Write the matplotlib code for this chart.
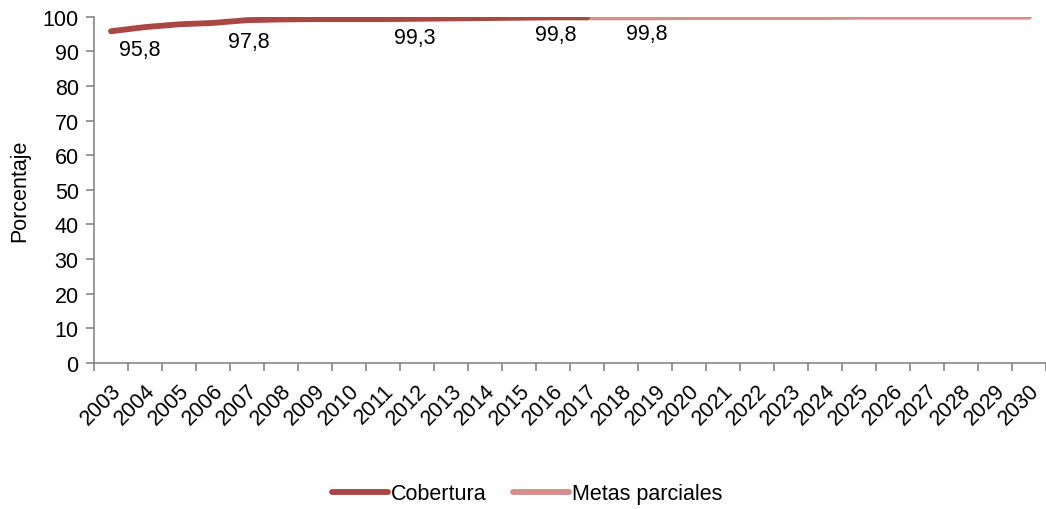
import numpy as np
import matplotlib
matplotlib.use('Agg')
import matplotlib.pyplot as plt

plt.rcParams['font.family'] = ['Liberation Sans', 'DejaVu Sans']

# datos
years = list(range(2003, 2031))
cob_years = list(range(2003, 2018))
cobertura = [95.8, 97.0, 97.8, 98.2, 99.0, 99.2, 99.3, 99.3, 99.3, 99.4, 99.5, 99.6, 99.7, 99.8, 99.8]
meta_years = list(range(2017, 2031))
metas = [99.8, 99.8, 99.8, 99.9, 99.9, 99.9, 99.9, 99.9, 100, 100, 100, 100, 100, 100]
label_years = [2003, 2007, 2012, 2016, 2019]
label_texts = ['95,8', '97,8', '99,3', '99,8', '99,8']

col_cob = '#AA4643'
col_meta = '#D38D8B'
gris = '#868686'
fs = 15.5

fig = plt.figure(figsize=(10.46, 5.10), dpi=100)
ax = fig.add_axes([94/1046, 1-364/510, (1046-94)/1046, (364-17.7)/510])

xi = {y: i for i, y in enumerate(years)}
ax.plot([xi[y] for y in meta_years], metas, color=col_meta, lw=4.2,
        solid_capstyle='round', label='Metas parciales', zorder=2)
ax.plot([xi[y] for y in cob_years], cobertura, color=col_cob, lw=4.2,
        solid_capstyle='round', label='Cobertura', zorder=3)

# etiquetas de datos (desplazamientos en pixeles)
offs = [(29, -18), (2, -21), (-2, -19), (3, -17), (-8, -16)]
allv = dict(zip(cob_years, cobertura))
allv.update({y: v for y, v in zip(meta_years, metas) if y not in allv})
for y, t, o in zip(label_years, label_texts, offs):
    ax.annotate(t, xy=(xi[y], allv[y]), xytext=o, textcoords='offset pixels',
                ha='center', va='center', fontsize=fs, color='black')

ax.set_xlim(-0.5, len(years)-0.5)
ax.set_ylim(0, 100)
ax.set_yticks(np.arange(0, 101, 10))
ax.set_xticks(np.arange(len(years)))
ax.set_xticklabels([str(y) for y in years], rotation=45, ha='right',
                   va='top', rotation_mode='anchor', fontsize=fs)
ax.set_xticks(np.arange(-0.5, len(years)), minor=True)
ax.tick_params(axis='x', which='major', length=0, pad=12)
ax.tick_params(axis='x', which='minor', length=6, width=1.2, color=gris, direction='out')
ax.tick_params(axis='y', length=6, width=1.2, color=gris, direction='out', labelsize=fs, pad=5)

for s in ['top', 'right']:
    ax.spines[s].set_visible(False)
for s in ['left', 'bottom']:
    ax.spines[s].set_color(gris)
    ax.spines[s].set_linewidth(1.2)

ax.set_ylabel('Porcentaje', fontsize=fs, labelpad=9)

h, l = ax.get_legend_handles_labels()
fig.legend(h[::-1], l[::-1], loc='center', bbox_to_anchor=(527/1046, 1-495/510),
           ncol=2, frameon=False, fontsize=fs, handlelength=2.6,
           handletextpad=0.15, columnspacing=1.2)

fig.savefig('out.png', dpi=100)
